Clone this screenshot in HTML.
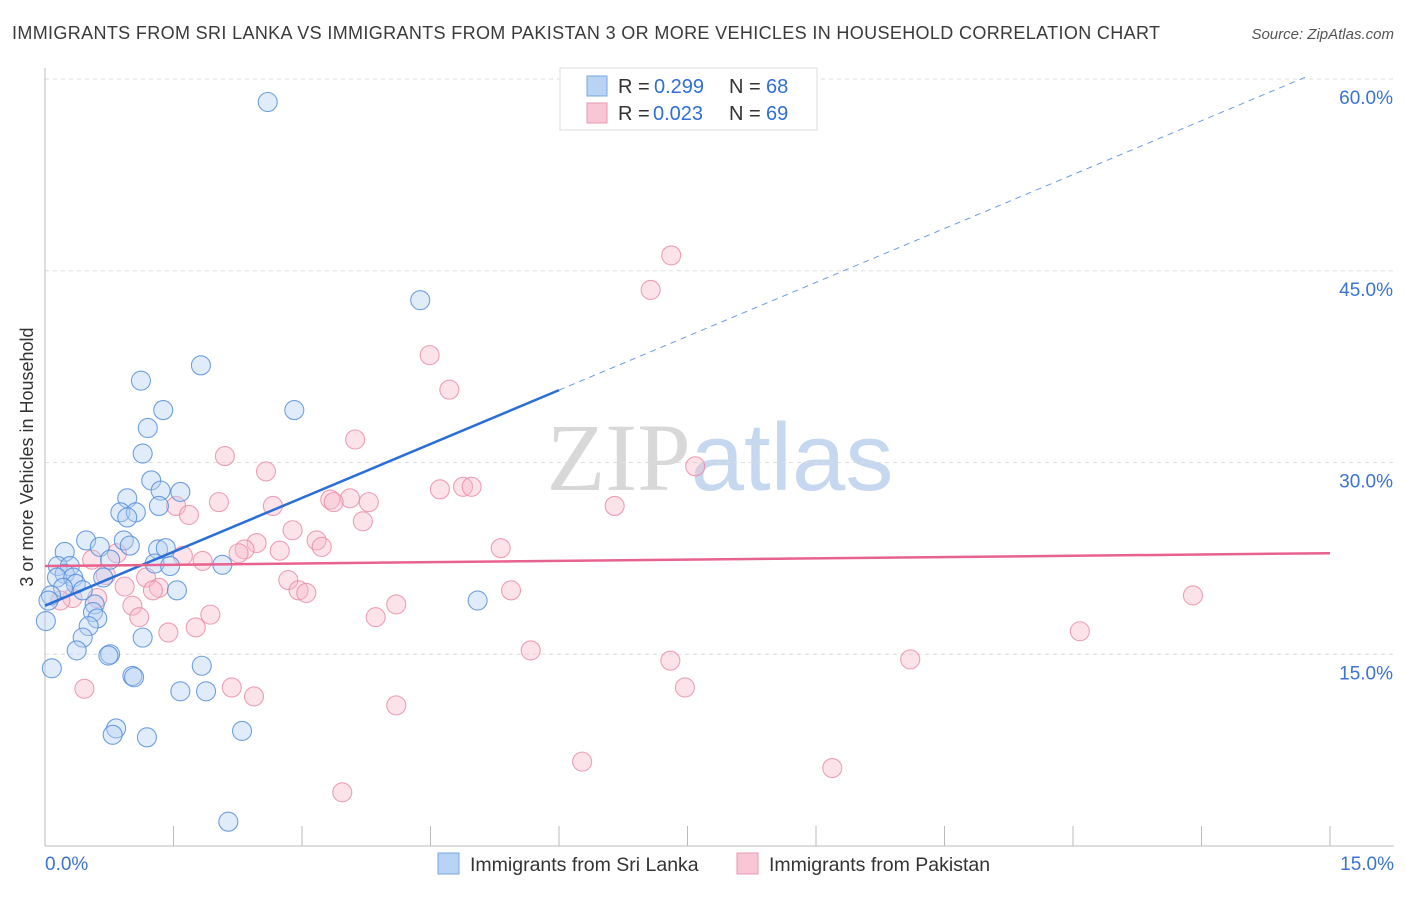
<!DOCTYPE html>
<html><head><meta charset="utf-8"><style>
body{margin:0;background:#fff;font-family:"Liberation Sans",sans-serif;}
svg text{font-family:"Liberation Sans",sans-serif;}
</style></head><body>
<svg id="chart" width="1406" height="892" xmlns="http://www.w3.org/2000/svg">
<text x="12" y="39" font-size="18" fill="#3a3a3a" textLength="1148" lengthAdjust="spacing">IMMIGRANTS FROM SRI LANKA VS IMMIGRANTS FROM PAKISTAN 3 OR MORE VEHICLES IN HOUSEHOLD CORRELATION CHART</text>
<text x="1394" y="39" font-size="15" fill="#555" font-style="italic" text-anchor="end">Source: ZipAtlas.com</text>
<text transform="translate(33,457) rotate(-90)" font-size="18" fill="#333" text-anchor="middle">3 or more Vehicles in Household</text>
<text x="720" y="490" font-size="96" text-anchor="middle"><tspan fill="#d8d8d8" font-family="Liberation Serif">ZIP</tspan><tspan fill="#c5d8ef">atlas</tspan></text>
<g id="grid"></g><g id="axes"></g><g id="pts"></g><g id="lines"></g>
<g>
<rect x="560" y="68" width="257" height="62" fill="#fff" stroke="#ddd"/>
<rect x="587" y="76" width="20" height="20" fill="#b8d3f3" stroke="#7aa7e0"/>
<text x="618" y="93" font-size="20" fill="#333">R =</text>
<text x="654" y="93" font-size="20" fill="#2f6fd6">0.299</text>
<text x="729" y="93" font-size="20" fill="#333">N =</text>
<text x="766" y="93" font-size="20" fill="#2f6fd6">68</text>
<rect x="587" y="103" width="20" height="20" fill="#f8c6d4" stroke="#e99ab2"/>
<text x="618" y="120" font-size="20" fill="#333">R =</text>
<text x="653" y="120" font-size="20" fill="#2f6fd6">0.023</text>
<text x="729" y="120" font-size="20" fill="#333">N =</text>
<text x="766" y="120" font-size="20" fill="#2f6fd6">69</text>
</g>
<g>
<rect x="438" y="853" width="21" height="21" fill="#b8d3f3" stroke="#7aa7e0"/>
<text x="470" y="871" font-size="19.5" fill="#333">Immigrants from Sri Lanka</text>
<rect x="737" y="853" width="21" height="21" fill="#f8c6d4" stroke="#e99ab2"/>
<text x="769" y="871" font-size="19.5" fill="#333">Immigrants from Pakistan</text>
</g>
</svg>
<script>
const xTicks=[0,1.5,3,4.5,6,7.5,9,10.5,12,13.5,15];
const yTicks=[15,30,45,60];
const yTickLabels=["15.0%","30.0%","45.0%","60.0%"];
const blueX=[2.60,4.38,1.82,1.12,1.38,2.91,1.20,1.14,1.24,1.35,1.58,0.96,1.33,0.88,1.06,0.96,0.48,0.92,0.64,0.99,1.32,1.41,0.23,0.76,1.28,1.46,2.07,0.15,0.29,0.23,0.14,0.33,0.68,0.36,0.44,0.21,0.07,0.04,1.54,5.05,0.58,0.56,0.61,0.51,0.01,0.44,1.14,0.37,0.76,0.74,1.83,0.08,1.02,1.04,1.58,1.88,0.83,0.79,1.19,2.30,2.14];
const blueY=[58.2,42.7,37.6,36.4,34.1,34.1,32.7,30.7,28.6,27.8,27.7,27.2,26.6,26.1,26.1,25.7,23.9,23.9,23.4,23.5,23.2,23.3,23.0,22.4,22.1,21.9,22.0,21.9,21.9,21.3,21.0,21.0,21.0,20.5,20.0,20.2,19.6,19.2,20.0,19.2,18.9,18.3,17.8,17.2,17.6,16.3,16.3,15.3,15.0,14.9,14.1,13.9,13.3,13.2,12.1,12.1,9.2,8.7,8.5,9.0,1.9];
const pinkX=[7.31,7.07,4.49,4.72,3.62,2.10,7.59,2.58,4.61,4.88,4.98,2.03,3.56,3.33,3.37,3.78,2.66,6.65,1.53,1.68,3.71,2.89,3.17,2.47,3.23,2.33,5.32,2.26,2.74,1.61,0.84,0.55,1.84,0.71,1.18,2.84,0.93,1.33,1.26,2.96,3.05,5.44,0.61,0.32,0.18,13.40,1.02,4.10,1.10,1.93,3.86,1.76,1.44,12.08,5.67,7.30,10.10,0.46,2.18,7.47,2.44,4.10,6.27,9.19,3.47];
const pinkY=[46.2,43.5,38.4,35.7,31.8,30.5,29.7,29.3,27.9,28.1,28.1,26.9,27.2,27.1,26.9,26.9,26.6,26.6,26.6,25.9,25.4,24.7,23.9,23.7,23.4,23.2,23.3,22.9,23.1,22.7,22.9,22.4,22.3,21.2,21.0,20.8,20.3,20.2,20.0,20.0,19.8,20.0,19.4,19.4,19.2,19.6,18.8,18.9,17.9,18.1,17.9,17.1,16.7,16.8,15.3,14.5,14.6,12.3,12.4,12.4,11.7,11.0,6.6,6.1,4.2];
const blueTrend=[18.8,2.81];
const pinkTrend=[21.9,0.067];
const X=v=>45+v/15*1285, Y=v=>846-v/60*767;
const NS="http://www.w3.org/2000/svg";
function mk(tag,attrs,parent){const e=document.createElementNS(NS,tag);for(const k in attrs)e.setAttribute(k,attrs[k]);document.getElementById(parent).appendChild(e);return e;}
yTicks.forEach((t,i)=>{
 const g=mk('line',{x1:45,x2:1394,y1:Y(t),y2:Y(t),stroke:'#ddd','stroke-dasharray':'4,4'},'grid');
 
 
 const tx=mk('text',{x:1393,y:Y(t)+25,'font-size':19,fill:'#3b73d4','text-anchor':'end'},'axes');
 tx.textContent=yTickLabels[i];
 
 
});
const ax=mk('line',{x1:45,x2:45,y1:68,y2:846,stroke:'#bbb'},'axes');


const bx=mk('line',{x1:45,x2:1394,y1:846,y2:846,stroke:'#bbb'},'axes');


xTicks.forEach(t=>{const l=mk('line',{x1:X(t),x2:X(t),y1:826,y2:846,stroke:'#bbb'},'axes');
 
 });
const xl=mk('text',{x:45,y:870,'font-size':19,fill:'#3b73d4'},'axes');xl.textContent=xTicks[0].toFixed(1)+'%';


const xr=mk('text',{x:1394,y:870,'font-size':19,fill:'#3b73d4','text-anchor':'end'},'axes');xr.textContent=xTicks[xTicks.length-1].toFixed(1)+'%';


function pts(xs,ys,fill,stroke,name){xs.forEach((x,i)=>{const c=mk('circle',{cx:X(x),cy:Y(ys[i]),r:9.5,fill:fill,'fill-opacity':0.4,stroke:stroke,'stroke-opacity':0.8,'stroke-width':1.1},'pts');
 
 });}
pts(pinkX,pinkY,'#f7b8cb','#e889a6','pakistan-point');
pts(blueX,blueY,'#b3cff2','#4f8ad8','sri-lanka-point');
const bl=mk('line',{x1:X(0),y1:Y(blueTrend[0]),x2:X(6),y2:Y(blueTrend[0]+6*blueTrend[1]),stroke:'#2a6fd6','stroke-width':2.5},'lines');


const bd=mk('line',{x1:X(6),y1:Y(blueTrend[0]+6*blueTrend[1]),x2:X(14.75),y2:Y(blueTrend[0]+14.75*blueTrend[1]),stroke:'#6d9be0','stroke-width':1,'stroke-dasharray':'6,5'},'lines');


const pl=mk('line',{x1:X(0),y1:Y(pinkTrend[0]),x2:X(15),y2:Y(pinkTrend[0]+15*pinkTrend[1]),stroke:'#e8628e','stroke-width':2.5},'lines');


</script>
</body></html>
